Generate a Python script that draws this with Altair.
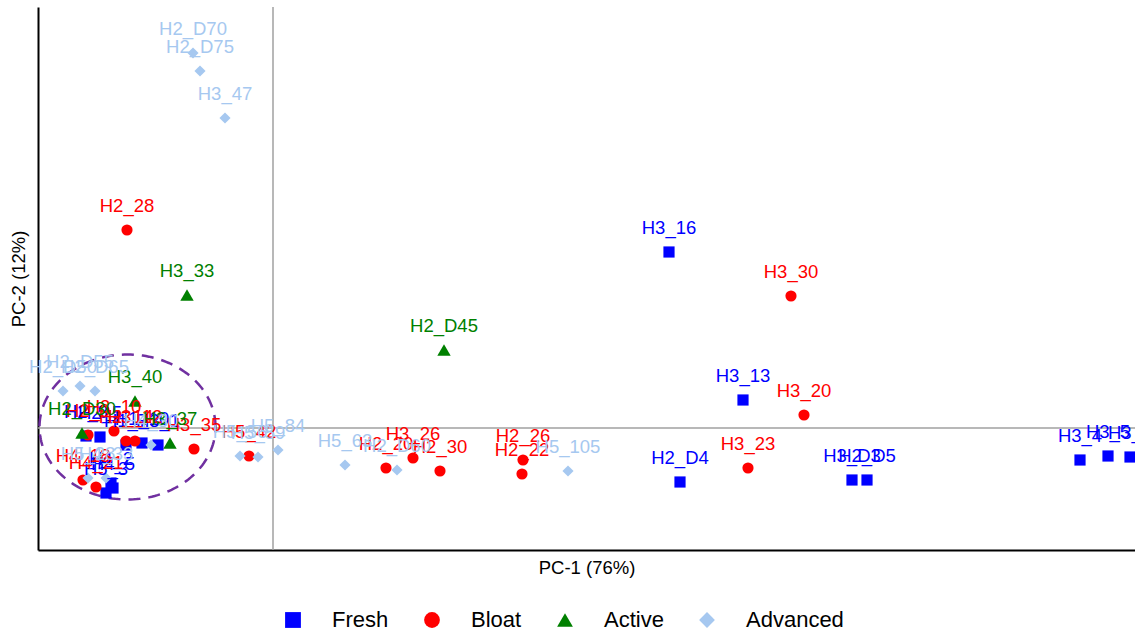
import altair as alt
import numpy as np
import pandas as pd

# PCA scores per decomposition stage
fresh_names = ["H3_16", "H3_13", "H2_D4", "H3_D3", "H2_D5", "H3_4", "H3_5", "H3_9",
               "H2_3", "H2_5", "H1_7", "H1_10", "H3_1", "H4_2", "H5_3", "H4_5"]
fresh_pc1 = [3.96, 4.70, 4.07, 5.79, 5.94, 8.07, 8.35, 8.57,
             -1.87, -1.73, -1.47, -1.31, -1.15, -1.62, -1.67, -1.60]
fresh_pc2 = [1.76, 0.28, -0.54, -0.52, -0.52, -0.32, -0.28, -0.29,
             -0.08, -0.09, -0.17, -0.15, -0.17, -0.55, -0.65, -0.60]

bloat_names = ["H2_28", "H3_30", "H3_20", "H3_23", "H2_26", "H2_22", "H3_26", "H2_20",
               "H2_30", "H5_42", "H3_35", "H2_9", "H3_10", "H2_14", "H3_12", "H4_18", "H4_21"]
bloat_pc1 = [-1.46, 5.18, 5.31, 4.75, 2.50, 2.49, 1.40, 1.13,
             1.67, -0.24, -0.79, -1.85, -1.59, -1.47, -1.38, -1.90, -1.77]
bloat_pc2 = [1.98, 1.32, 0.13, -0.40, -0.32, -0.46, -0.30, -0.40,
             -0.43, -0.28, -0.21, -0.07, -0.03, -0.13, -0.13, -0.52, -0.59]

active_names = ["H3_33", "H2_D45", "H3_40", "H3_37", "H2_D30"]
active_pc1 = [-0.86, 1.71, -1.38, -1.03, -1.91]
active_pc2 = [1.33, 0.78, 0.27, -0.15, -0.05]

advanced_names = ["H2_D70", "H2_D75", "H3_47", "H5_84", "H5_56", "H5_59", "H5_63", "H2_D60",
                  "H5_105", "H2_D50", "H2_D55", "H2_D65", "H4_30", "H5_28", "H4_33"]
advanced_pc1 = [-0.80, -0.73, -0.48, 0.05, -0.33, -0.15, 0.72, 1.24,
                2.95, -2.10, -1.93, -1.78, -1.22, -1.85, -1.67]
advanced_pc2 = [3.75, 3.57, 3.10, -0.22, -0.28, -0.29, -0.37, -0.42,
                -0.43, 0.37, 0.42, 0.37, -0.17, -0.50, -0.50]

stages = ["Fresh", "Bloat", "Active", "Advanced"]
stage_colors = ["#0000ff", "#ff0000", "#008000", "#a6c8f0"]
stage_shapes = ["square", "circle", "triangle-up", "diamond"]

# Dashed ellipse around the early-stage cluster (centre and radii in PC units)
ell_cx, ell_cy, ell_rx, ell_ry = -1.455, 0.01, 0.88, 0.725

frames = []
for stage, names, xs, ys in [
    ("Fresh", fresh_names, fresh_pc1, fresh_pc2),
    ("Bloat", bloat_names, bloat_pc1, bloat_pc2),
    ("Active", active_names, active_pc1, active_pc2),
    ("Advanced", advanced_names, advanced_pc1, advanced_pc2),
]:
    frames.append(pd.DataFrame({"sample": names, "pc1": xs, "pc2": ys, "stage": stage}))
scores = pd.concat(frames, ignore_index=True)

t = np.linspace(0, 2 * np.pi, 181)
ellipse = pd.DataFrame({
    "pc1": ell_cx + ell_rx * np.cos(t),
    "pc2": ell_cy + ell_ry * np.sin(t),
    "k": np.arange(len(t)),
})

FONT = "Liberation Sans"

x_scale = alt.Scale(domain=[-2.35, 8.62], nice=False, zero=False)
y_scale = alt.Scale(domain=[-1.22, 4.21], nice=False, zero=False)

x_enc = alt.X("pc1:Q", scale=x_scale, axis=alt.Axis(
    title="PC-1 (76%)", labels=False, ticks=False, grid=False,
    domainColor="black", domainWidth=2, titleFont=FONT, titleFontSize=18.5,
    titleFontWeight="normal", titleColor="black", titlePadding=8))
y_enc = alt.Y("pc2:Q", scale=y_scale, axis=alt.Axis(
    title="PC-2 (12%)", labels=False, ticks=False, grid=False,
    domainColor="black", domainWidth=2, titleFont=FONT, titleFontSize=18.5,
    titleFontWeight="normal", titleColor="black", titlePadding=10))

legend = alt.Legend(
    orient="none", legendX=244, legendY=602, direction="horizontal", title=None,
    labelFont=FONT, labelFontSize=22, labelColor="black", symbolSize=250,
    symbolStrokeWidth=0, symbolOpacity=1, labelOffset=28, columnPadding=32,
    padding=0,
)
color_enc = alt.Color("stage:N", scale=alt.Scale(domain=stages, range=stage_colors), legend=legend)
shape_enc = alt.Shape("stage:N", scale=alt.Scale(domain=stages, range=stage_shapes), legend=legend)

vline = alt.Chart(pd.DataFrame({"v": [0.0]})).mark_rule(color="#a0a0a0", strokeWidth=1.5).encode(
    x=alt.X("v:Q", scale=x_scale))
hline = alt.Chart(pd.DataFrame({"h": [0.0]})).mark_rule(color="#a0a0a0", strokeWidth=1.5).encode(
    y=alt.Y("h:Q", scale=y_scale))

ring = alt.Chart(ellipse).mark_line(
    color="#7030a0", strokeWidth=2.5, strokeDash=[12, 8]
).encode(x=x_enc, y=y_enc, order="k:Q")

# triangles read smaller than the other symbols at equal area, so they get a larger size
base_points = alt.Chart(scores).encode(x=x_enc, y=y_enc, color=color_enc, shape=shape_enc)
points = base_points.transform_filter(alt.datum.stage != "Active").mark_point(
    filled=True, opacity=1, size=125)
tri_points = base_points.transform_filter(alt.datum.stage == "Active").mark_point(
    filled=True, opacity=1, size=180)

labels = alt.Chart(scores).mark_text(
    font=FONT, fontSize=18.5, dy=-24, baseline="middle", align="center"
).encode(
    x=x_enc, y=y_enc, text="sample:N",
    color=alt.Color("stage:N", scale=alt.Scale(domain=stages, range=stage_colors), legend=None),
)

chart = alt.layer(vline, hline, ring, points, tri_points, labels).properties(
    width=1097, height=543,
    autosize=alt.AutoSizeParams(type="none"),
    padding={"left": 38, "top": 7, "right": 0, "bottom": 82},
    background="white",
).configure_view(strokeWidth=0)

chart.save("out.html", embed_options={"renderer": "svg", "actions": False})
